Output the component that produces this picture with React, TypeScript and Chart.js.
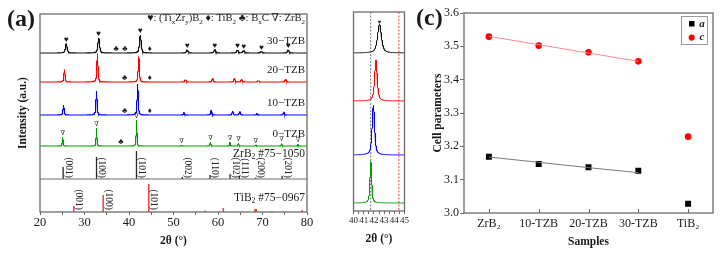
import React, { useEffect, useRef } from 'react';
import { Chart, registerables } from 'chart.js';

Chart.register(...registerables);

const SERIF = "'Liberation Serif', 'Times New Roman', 'DejaVu Serif', serif";
const FRAME = '#6c6c6c';
const INK = '#1a1a1a';

// ---------- (a) XRD patterns: reflections of each composite (2θ in °, intensity in a.u.)
const SAMPLE_LABELS = ['30−TZB', '20−TZB', '10−TZB', '0−TZB'];
const SAMPLE_COLORS = ['#111111', '#ff0000', '#0000ff', '#009c00'];
const SAMPLE_OFFSETS_A = [159, 130, 97, 66];
const SAMPLE_OFFSETS_B = [98.75, 68.75, 35, 5];
const SAMPLE_FWHM = [0.45, 0.3, 0.29, 0.2];

const TZB30_POS = [25.9, 33.2, 42.55, 53.1, 59.3, 64.4, 65.8, 69.8, 75.8];
const TZB30_INT = [9.5, 15, 18, 3, 3.5, 3, 2.5, 1.5, 3];
const TZB20_POS = [25.5, 32.9, 42.2, 52.7, 58.8, 63.7, 65.3, 69.1, 75.2];
const TZB20_INT = [12.5, 28.5, 25.5, 2.5, 4, 4, 3, 1.5, 3];
const TZB10_POS = [25.3, 32.7, 41.95, 52.4, 58.5, 63.3, 64.9, 68.8, 74.8];
const TZB10_INT = [10, 24, 31, 2.5, 5, 4, 3.5, 1.5, 3];
const TZB0_POS = [25.1, 32.7, 41.7, 51.8, 58.3, 62.7, 64.6, 68.5, 74.3, 78.0];
const TZB0_INT = [9, 18, 26, 0.8, 4, 3.5, 3, 1, 2.5, 1.5];

// phase markers (2θ) on each pattern
const HEART_POS = [25.9, 33.2, 42.55, 53.1, 59.3, 64.4, 65.8, 69.8, 75.8];
const CLUB_POS = [[37.1, 39.1], [39.0], [39.0], [38.2]];
const DIAMOND_POS = [[44.7], [44.7], [44.7], []];
const NABLA_POS = [25.1, 32.7, 41.7, 51.8, 58.3, 62.7, 64.6, 68.5, 74.3, 78.0];

// reference cards
const ZRB2_POS = [25.2, 32.7, 41.68, 52.0, 58.2, 62.7, 64.8, 68.5, 74.4];
const ZRB2_INT = [12, 22, 28, 2, 4, 5, 3, 1.5, 3];
const ZRB2_HKL = ['(001)', '(100)', '(101)', '(002)', '(110)', '(102)', '(111)', '(200)', '(201)'];
const ZRB2_BASE = 33;
const TIB2_POS = [27.6, 34.2, 44.45, 57.1, 61.2, 68.3, 68.6, 72.1, 78.9];
const TIB2_INT = [6, 17, 28, 1.5, 4, 3, 3, 1, 2];
const TIB2_HKL = ['(001)', '(100)', '(101)'];

// ---------- (c) lattice parameters (Å)
const SAMPLES = ['ZrB₂', '10-TZB', '20-TZB', '30-TZB', 'TiB₂'];
const A_VALUES = [3.169, 3.147, 3.137, 3.127, 3.028];
const C_VALUES = [3.529, 3.502, 3.482, 3.455, 3.229];
const A_FIT = [3.168, 3.152, 3.136, 3.121, null];
const C_FIT = [3.53, 3.505, 3.48, 3.455, null];

const PATTERN_POS = [TZB30_POS, TZB20_POS, TZB10_POS, TZB0_POS];
const PATTERN_INT = [TZB30_INT, TZB20_INT, TZB10_INT, TZB0_INT];

function profile(x: number, c: number, fwhm: number) {
  const d = (x - c) / (fwhm / 2);
  return 0.6 / (1 + d * d) + 0.4 * Math.exp(-Math.LN2 * d * d);
}

function intensityAt(x: number, i: number) {
  let s = 0;
  PATTERN_POS[i].forEach((p, k) => {
    s += PATTERN_INT[i][k] * profile(x, p, SAMPLE_FWHM[i]);
  });
  return s;
}

function curve(i: number, offset: number, x0: number, x1: number, step: number) {
  const pts: { x: number; y: number }[] = [];
  const n = Math.round((x1 - x0) / step);
  for (let k = 0; k <= n; k++) {
    const x = x0 + k * step;
    pts.push({ x, y: offset + intensityAt(x, i) });
  }
  return pts;
}

function sticks(pos: number[], int: number[], base: number) {
  const pts: { x: number; y: number | null }[] = [];
  pos.forEach((p, k) => {
    pts.push({ x: p, y: base }, { x: p, y: base + int[k] }, { x: p, y: null });
  });
  return pts;
}

type Run = [string, boolean];

function drawRich(ctx: CanvasRenderingContext2D, runs: Run[], x: number, y: number, size: number, color: string, align: 'left' | 'right' | 'center') {
  const sub = size * 0.66;
  let w = 0;
  runs.forEach(([t, s]) => {
    ctx.font = `${s ? sub : size}px ${SERIF}`;
    w += ctx.measureText(t).width;
  });
  let cx = align === 'left' ? x : align === 'right' ? x - w : x - w / 2;
  const base = y + size * 0.33;
  ctx.textAlign = 'left';
  ctx.textBaseline = 'alphabetic';
  ctx.fillStyle = color;
  runs.forEach(([t, s]) => {
    ctx.font = `${s ? sub : size}px ${SERIF}`;
    ctx.fillText(t, cx, s ? base + size * 0.22 : base);
    cx += ctx.measureText(t).width;
  });
}

function drawVTitle(ctx: CanvasRenderingContext2D, text: string, x: number, y: number) {
  ctx.save();
  ctx.translate(x, y);
  ctx.rotate(-Math.PI / 2);
  ctx.font = `bold 11.5px ${SERIF}`;
  ctx.textAlign = 'center';
  ctx.textBaseline = 'middle';
  ctx.fillStyle = INK;
  ctx.fillText(text, 0, 0);
  ctx.restore();
}

function drawLetter(ctx: CanvasRenderingContext2D, text: string, x: number, y: number) {
  ctx.font = `bold 24px ${SERIF}`;
  ctx.textAlign = 'left';
  ctx.textBaseline = 'middle';
  ctx.fillStyle = INK;
  ctx.fillText(text, x, y);
}

function frame(chart: any) {
  const { ctx, chartArea: ca } = chart;
  ctx.strokeStyle = FRAME;
  ctx.lineWidth = 1.3;
  ctx.strokeRect(ca.left, ca.top, ca.right - ca.left, ca.bottom - ca.top);
}

const axisTitleFont = { family: SERIF, size: 11.5, weight: 'bold' as const };

const panelA = {
  id: 'panelA',
  afterDraw(chart: any) {
    const { ctx, scales } = chart;
    const xs = scales.x;
    const ys = scales.y;
    ctx.save();
    frame(chart);

    const mark = (glyph: string, angle: number, i: number) => {
      const v = SAMPLE_OFFSETS_A[i] + intensityAt(angle, i);
      ctx.fillText(glyph, xs.getPixelForValue(angle), ys.getPixelForValue(v) - 4);
    };
    ctx.fillStyle = INK;
    ctx.textAlign = 'center';
    ctx.textBaseline = 'middle';
    ctx.font = `8px ${SERIF}`;
    HEART_POS.forEach((a) => mark('♥', a, 0));
    CLUB_POS.forEach((list, i) => list.forEach((a) => mark('♣', a, i)));
    DIAMOND_POS.forEach((list, i) => list.forEach((a) => mark('♦', a, i)));
    ctx.font = `6.5px ${SERIF}`;
    NABLA_POS.forEach((a) => mark('∇', a, 3));

    const right = chart.chartArea.right - 2;
    SAMPLE_LABELS.forEach((t, i) => {
      ctx.font = `11px ${SERIF}`;
      ctx.textAlign = 'right';
      ctx.textBaseline = 'middle';
      ctx.fillStyle = INK;
      ctx.fillText(t, right, ys.getPixelForValue(SAMPLE_OFFSETS_A[i] + 12));
    });
    drawRich(ctx, [['ZrB', false], ['2', true], [' #75−1050', false]], right, ys.getPixelForValue(ZRB2_BASE + 26), 11.5, INK, 'right');
    drawRich(ctx, [['TiB', false], ['2', true], [' #75−0967', false]], right, ys.getPixelForValue(15), 11.5, INK, 'right');

    // Miller indices next to the reference lines
    const hkl = (labels: string[], pos: number[], baseVal: number) => {
      labels.forEach((t, k) => {
        ctx.save();
        ctx.translate(xs.getPixelForValue(pos[k]) + 5, ys.getPixelForValue(baseVal) - 1);
        ctx.rotate(Math.PI / 2);
        ctx.font = `9.5px ${SERIF}`;
        ctx.textAlign = 'right';
        ctx.textBaseline = 'middle';
        ctx.fillStyle = '#222';
        ctx.fillText(t, 0, 0);
        ctx.restore();
      });
    };
    hkl(ZRB2_HKL, ZRB2_POS, ZRB2_BASE);
    hkl(TIB2_HKL, TIB2_POS, 1);

    drawRich(
      ctx,
      [
        ['♥: (Ti', false], ['x', true], ['Zr', false], ['y', true], [')B', false], ['2', true],
        [' ♦: TiB', false], ['2', true], [' ♣: B', false], ['x', true], ['C ∇: ZrB', false], ['2', true],
      ],
      right, 18, 10.6, INK, 'right'
    );

    drawVTitle(ctx, 'Intensity (a.u.)', 23, 113);
    drawLetter(ctx, '(a)', 7, 20);
    ctx.restore();
  },
};

const panelB = {
  id: 'panelB',
  beforeDatasetsDraw(chart: any) {
    const { ctx, chartArea: ca, scales } = chart;
    ctx.save();
    ctx.lineWidth = 1.2;
    ctx.setLineDash([2, 1.5]);
    ctx.strokeStyle = '#8a8a8a';
    const gx = scales.x.getPixelForValue(ZRB2_POS[2]);
    ctx.beginPath();
    ctx.moveTo(gx, ca.top);
    ctx.lineTo(gx, ca.bottom);
    ctx.stroke();
    ctx.strokeStyle = '#ff5a5a';
    const rx = scales.x.getPixelForValue(TIB2_POS[2]);
    ctx.beginPath();
    ctx.moveTo(rx, ca.top);
    ctx.lineTo(rx, ca.bottom);
    ctx.stroke();
    ctx.restore();
  },
  afterDraw(chart: any) {
    const { ctx, scales } = chart;
    ctx.save();
    frame(chart);
    drawRich(ctx, [['ZrB', false], ['2', true]], 363, 22.5, 8, '#333', 'center');
    drawRich(ctx, [['(101)', false]], 363, 30.5, 7.5, '#333', 'center');
    drawRich(ctx, [['TiB', false], ['2', true]], 398, 22.5, 8, '#ff3030', 'center');
    drawRich(ctx, [['(101)', false]], 398, 30.5, 7.5, '#ff3030', 'center');
    const hx = PATTERN_POS[0][2];
    const hv = SAMPLE_OFFSETS_B[0] + intensityAt(hx, 0);
    ctx.font = `6px ${SERIF}`;
    ctx.textAlign = 'center';
    ctx.textBaseline = 'middle';
    ctx.fillStyle = INK;
    ctx.fillText('♥', scales.x.getPixelForValue(hx), scales.y.getPixelForValue(hv) - 2);
    drawVTitle(ctx, 'Intensity (a.u.)', 338, 112);
    drawLetter(ctx, '(b)', 319, 20);
    ctx.restore();
  },
};

const panelC = {
  id: 'panelC',
  afterDraw(chart: any) {
    const { ctx, chartArea: ca, scales } = chart;
    ctx.save();
    frame(chart);
    ctx.strokeStyle = FRAME;
    ctx.lineWidth = 1;
    SAMPLES.forEach((_, k) => {
      const px = Math.round(scales.x.getPixelForValue(k)) + 0.5;
      ctx.beginPath();
      ctx.moveTo(px, ca.bottom);
      ctx.lineTo(px, ca.bottom - 4);
      ctx.stroke();
    });
    // legend
    ctx.strokeStyle = '#9a9a9a';
    ctx.lineWidth = 1;
    ctx.strokeRect(681.5 - 410, 16.5, 26, 28);
    ctx.fillStyle = '#000';
    ctx.fillRect(689 - 410, 21, 5.5, 5.5);
    ctx.fillStyle = '#ff0000';
    ctx.beginPath();
    ctx.arc(691.7 - 410, 37.6, 3.1, 0, Math.PI * 2);
    ctx.fill();
    ctx.font = `italic bold 11px ${SERIF}`;
    ctx.fillStyle = INK;
    ctx.textAlign = 'center';
    ctx.textBaseline = 'middle';
    ctx.fillText('a', 702 - 410, 24);
    ctx.fillText('c', 702 - 410, 37.5);
    drawVTitle(ctx, 'Cell parameters', 438 - 410, 113);
    drawLetter(ctx, '(c)', 416 - 410, 19);
    ctx.restore();
  },
};

function configA(): any {
  const datasets: any[] = PATTERN_POS.map((_, i) => ({
    data: curve(i, SAMPLE_OFFSETS_A[i], 20, 80, 0.01),
    borderColor: SAMPLE_COLORS[i],
    borderWidth: 1.1,
    pointRadius: 0,
  }));
  datasets.push({
    data: [{ x: 20, y: ZRB2_BASE }, { x: 80, y: ZRB2_BASE }],
    borderColor: FRAME,
    borderWidth: 1.2,
    pointRadius: 0,
  });
  datasets.push({ data: sticks(ZRB2_POS, ZRB2_INT, ZRB2_BASE), borderColor: '#2a2a2a', borderWidth: 1.3, pointRadius: 0, spanGaps: false });
  datasets.push({ data: sticks(TIB2_POS, TIB2_INT, 0), borderColor: '#ff3b3b', borderWidth: 1.5, pointRadius: 0, spanGaps: false });
  return {
    type: 'line',
    data: { datasets },
    options: {
      animation: false,
      responsive: false,
      events: [],
      layout: { padding: { left: 40, right: 8, top: 14, bottom: 0 } },
      plugins: { legend: { display: false }, tooltip: { enabled: false } },
      scales: {
        x: {
          type: 'linear',
          min: 20,
          max: 80,
          afterFit: (s: any) => { s.height = 42; },
          ticks: {
            stepSize: 5,
            autoSkip: false,
            maxRotation: 0,
            padding: 0,
            color: INK,
            font: { family: SERIF, size: 12.5 },
            callback: (v: number) => (v % 10 === 0 ? String(v) : ''),
          },
          grid: { display: true, drawOnChartArea: false, drawTicks: true, tickLength: 3, color: FRAME },
          border: { display: false },
          title: { display: true, text: '2θ (°)', color: INK, font: axisTitleFont, padding: { top: 0, bottom: 6 } },
        },
        y: { type: 'linear', display: false, min: 0, max: 198 },
      },
    },
    plugins: [panelA],
  };
}

function configB(): any {
  const datasets = PATTERN_POS.map((_, i) => ({
    data: curve(i, SAMPLE_OFFSETS_B[i], 40, 45, 0.005),
    borderColor: SAMPLE_COLORS[i],
    borderWidth: 1,
    pointRadius: 0,
  }));
  return {
    type: 'line',
    data: { datasets },
    options: {
      animation: false,
      responsive: false,
      events: [],
      layout: { padding: { left: 43.5, right: 4, top: 12, bottom: 0 } },
      plugins: { legend: { display: false }, tooltip: { enabled: false } },
      scales: {
        x: {
          type: 'linear',
          min: 40,
          max: 45,
          afterFit: (s: any) => { s.height = 43; },
          ticks: {
            stepSize: 0.5,
            autoSkip: false,
            maxRotation: 0,
            padding: 1,
            color: INK,
            font: { family: SERIF, size: 9 },
            callback: (v: number) => (Number.isInteger(v) ? String(v) : ''),
          },
          grid: { display: true, drawOnChartArea: false, drawTicks: true, tickLength: 3, color: FRAME },
          border: { display: false },
          title: { display: true, text: '2θ (°)', color: INK, font: axisTitleFont, padding: { top: 0, bottom: 8 } },
        },
        y: { type: 'linear', display: false, min: 0, max: 124.4 },
      },
    },
    plugins: [panelB],
  };
}

function configC(): any {
  return {
    type: 'line',
    data: {
      labels: SAMPLES,
      datasets: [
        { data: A_FIT, borderColor: '#7a7a7a', borderWidth: 1, pointRadius: 0, spanGaps: false },
        { data: C_FIT, borderColor: '#ff8a8a', borderWidth: 1, pointRadius: 0, spanGaps: false },
        { data: A_VALUES, showLine: false, pointStyle: 'rect', pointRadius: 4.2, backgroundColor: '#000', borderColor: '#000', borderWidth: 0 },
        { data: C_VALUES, showLine: false, pointStyle: 'circle', pointRadius: 3.3, backgroundColor: '#ff0000', borderColor: '#ff0000', borderWidth: 0 },
      ],
    },
    options: {
      animation: false,
      responsive: false,
      events: [],
      layout: { padding: { left: 0, right: 6, top: 13, bottom: 0 } },
      plugins: { legend: { display: false }, tooltip: { enabled: false } },
      scales: {
        x: {
          type: 'category',
          offset: true,
          afterFit: (s: any) => { s.height = 41; },
          ticks: { color: INK, font: { family: SERIF, size: 12 }, padding: 4, maxRotation: 0, autoSkip: false },
          grid: { display: false, drawTicks: false },
          border: { display: false },
          title: { display: true, text: 'Samples', color: INK, font: axisTitleFont, padding: { top: 0, bottom: 5 } },
        },
        y: {
          min: 3.0,
          max: 3.6,
          afterFit: (s: any) => { s.width = 54; },
          ticks: { stepSize: 0.1, color: INK, font: { family: SERIF, size: 12 }, padding: 1, callback: (v: number) => v.toFixed(1) },
          grid: { display: true, drawOnChartArea: false, drawTicks: true, tickLength: 4, color: FRAME },
          border: { display: false },
        },
      },
    },
    plugins: [panelC],
  };
}

export default function App() {
  const refA = useRef<HTMLCanvasElement>(null);
  const refB = useRef<HTMLCanvasElement>(null);
  const refC = useRef<HTMLCanvasElement>(null);

  useEffect(() => {
    const charts = [
      new Chart(refA.current!, configA()),
      new Chart(refB.current!, configB()),
      new Chart(refC.current!, configC()),
    ];
    return () => charts.forEach((c) => c.destroy());
  }, []);

  return (
    <div style={{ position: 'absolute', left: 0, top: 0, width: 719, height: 254, background: '#fff', overflow: 'hidden' }}>
      <canvas ref={refA} width={315} height={254} style={{ position: 'absolute', left: 0, top: 0 }} />
      <canvas ref={refB} width={100} height={254} style={{ position: 'absolute', left: 310, top: 0 }} />
      <canvas ref={refC} width={309} height={254} style={{ position: 'absolute', left: 410, top: 0 }} />
    </div>
  );
}
